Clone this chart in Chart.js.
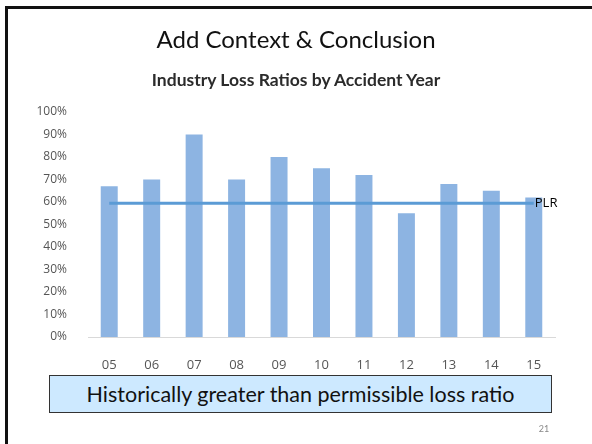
<!DOCTYPE html>
<html>
<head>
<meta charset="utf-8">
<script src="https://cdn.jsdelivr.net/npm/chart.js@4/dist/chart.umd.min.js"></script>
<style>
  html, body { margin: 0; padding: 0; background: #fff; }
  body { width: 592px; height: 444px; position: relative; overflow: hidden; font-family: Lato, "Open Sans", sans-serif; }
  #frame { position: absolute; left: 5px; top: 6px; width: 700px; height: 600px; border-left: 3px solid #111; border-top: 3px solid #111; }
  #slide-title { position: absolute; left: 0; width: 592px; top: 24px; text-align: center; font-size: 24px; color: #111; }
  #chart-title { position: absolute; left: 0; width: 592px; top: 69px; text-align: center; font-size: 17.5px; font-weight: bold; color: #2b2b2b; }
  #chart-wrap { position: absolute; left: 0; top: 0; width: 592px; height: 444px; }
  #note { position: absolute; left: 49px; top: 375px; width: 501px; height: 36px; background: #cde9ff; border: 1.5px solid #333;
          font-size: 21.5px; color: #111; text-align: center; line-height: 36px; }
  #page-num { position: absolute; left: 536px; top: 423px; width: 16px; text-align: center; font-size: 9px; color: #888; }
</style>
</head>
<body>
<div id="frame"></div>
<div id="chart-wrap"><canvas id="lossChart"></canvas></div>
<div id="slide-title">Add Context &amp; Conclusion</div>
<div id="chart-title">Industry Loss Ratios by Accident Year</div>
<div id="note">Historically greater than permissible loss ratio</div>
<div id="page-num">21</div>
<script>
// --- Data ---
const years = ['05', '06', '07', '08', '09', '10', '11', '12', '13', '14', '15'];
const lossRatios = [67, 70, 90, 70, 80, 75, 72, 55, 68, 65, 62];
const plrLine = [59.5, 59.5, 59.5, 59.5, 59.5, 59.5, 59.5, 59.5, 59.5, 59.5, 59.5];
const plrLabel = 'PLR';

const BAR_COLOR = '#8db4e2';
const LINE_COLOR = '#5b9bd5';
const TICK_COLOR = '#555';

// PLR text at the end of the line
const plrLabelPlugin = {
    id: 'plrLabel',
    afterDatasetsDraw(chart) {
        const meta = chart.getDatasetMeta(1);
        const last = meta.data[meta.data.length - 1];
        if (!last) return;
        const ctx = chart.ctx;
        ctx.save();
        ctx.font = '13px "Open Sans"';
        ctx.fillStyle = '#000';
        ctx.textBaseline = 'middle';
        ctx.textAlign = 'left';
        ctx.fillText(plrLabel, last.x + 1, last.y);
        ctx.restore();
    }
};

const ctx = document.getElementById('lossChart').getContext('2d');
const lossChart = new Chart(ctx, {
    data: {
        labels: years,
        datasets: [
            {
                type: 'bar',
                label: 'Loss Ratio',
                data: lossRatios,
                backgroundColor: BAR_COLOR,
                barPercentage: 0.4,
                categoryPercentage: 1.0,
                order: 2
            },
            {
                type: 'line',
                label: plrLabel,
                data: plrLine,
                borderColor: LINE_COLOR,
                borderWidth: 3,
                pointRadius: 0,
                fill: false,
                order: 1
            }
        ]
    },
    options: {
        responsive: true,
        maintainAspectRatio: false,
        animation: false,
        layout: { padding: { left: 0, top: 112, right: 37, bottom: 67 } },
        plugins: {
            legend: { display: false },
            tooltip: { enabled: false }
        },
        scales: {
            x: {
                grid: { display: false },
                border: { display: true, color: '#d9d9d9', width: 1 },
                ticks: { color: TICK_COLOR, padding: 12, font: { family: 'Open Sans', size: 13 } },
                afterFit: (scale) => { scale.height = 40; }
            },
            y: {
                min: 0,
                max: 100,
                grid: { display: false },
                border: { display: false },
                ticks: {
                    stepSize: 10,
                    color: TICK_COLOR,
                    padding: 13,
                    font: { family: 'Open Sans', size: 12 },
                    callback: (v) => v + '%'
                },
                afterFit: (scale) => { scale.width = 88; }
            }
        }
    },
    plugins: [plrLabelPlugin]
});
</script>
</body>
</html>
